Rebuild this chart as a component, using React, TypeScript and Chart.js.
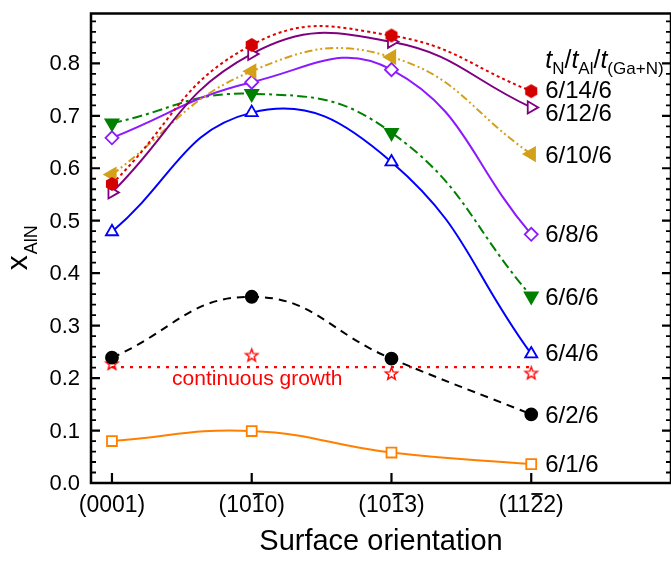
import React, { useEffect, useRef } from 'react';
import { Chart, registerables } from 'chart.js';

Chart.register(...registerables);

// ---------------- data ----------------
const categories = ['(0001)', '(1010)', '(1013)', '(1122)'];
const overbarIndex = [-1, 3, 3, 3];
const xPositions = [0, 1, 2, 3];

const s6_14_6 = [0.570, 0.835, 0.853, 0.747];
const s6_12_6 = [0.554, 0.818, 0.841, 0.716];
const s6_10_6 = [0.588, 0.785, 0.812, 0.627];
const s6_8_6 = [0.658, 0.764, 0.788, 0.474];
const s6_6_6 = [0.686, 0.742, 0.668, 0.356];
const s6_4_6 = [0.479, 0.706, 0.612, 0.246];
const s6_2_6 = [0.239, 0.355, 0.237, 0.131];
const s6_1_6 = [0.080, 0.099, 0.058, 0.036];
const continuousGrowth = [0.228, 0.244, 0.209, 0.210];
const continuousLevel = 0.221;

const seriesNames = ['6/14/6', '6/12/6', '6/10/6', '6/8/6', '6/6/6', '6/4/6', '6/2/6', '6/1/6'];
const seriesLabelY = [0.749, 0.705, 0.625, 0.474, 0.354, 0.248, 0.128, 0.036];

const yTickValues = [0, 0.1, 0.2, 0.3, 0.4, 0.5, 0.6, 0.7, 0.8];
const yTickLabels = ['0.0', '0.1', '0.2', '0.3', '0.4', '0.5', '0.6', '0.7', '0.8'];

const FONT = '"Liberation Sans", Arial, Helvetica, sans-serif';
const W = 671;
const H = 561;

function makeHex(r: number, color: string) {
  const c = document.createElement('canvas');
  const s = Math.ceil(r * 2 + 2);
  c.width = s; c.height = s;
  const ctx = c.getContext('2d')!;
  ctx.beginPath();
  for (let k = 0; k < 6; k++) {
    const a = -Math.PI / 2 + (k * Math.PI) / 3;
    const px = s / 2 + r * Math.cos(a);
    const py = s / 2 + r * Math.sin(a);
    if (k === 0) ctx.moveTo(px, py); else ctx.lineTo(px, py);
  }
  ctx.closePath();
  ctx.fillStyle = color;
  ctx.fill();
  return c;
}

function makeStar(r: number, color: string) {
  const c = document.createElement('canvas');
  const s = Math.ceil(r * 2 + 4);
  c.width = s; c.height = s;
  const ctx = c.getContext('2d')!;
  ctx.beginPath();
  for (let k = 0; k < 10; k++) {
    const a = -Math.PI / 2 + (k * Math.PI) / 5;
    const rr = k % 2 === 0 ? r : r * 0.42;
    const px = s / 2 + rr * Math.cos(a);
    const py = s / 2 + 0.6 + rr * Math.sin(a);
    if (k === 0) ctx.moveTo(px, py); else ctx.lineTo(px, py);
  }
  ctx.closePath();
  ctx.fillStyle = '#fff';
  ctx.fill();
  ctx.strokeStyle = color;
  ctx.lineWidth = 1.4;
  ctx.stroke();
  return c;
}

const toXY = (vals: number[]) => vals.map((v, i) => ({ x: xPositions[i], y: v }));

const decorPlugin = {
  id: 'decor',
  afterDraw(chart: any) {
    const ctx = chart.ctx;
    const { left, right, top, bottom } = chart.chartArea;
    const xs = chart.scales.x;
    const ys = chart.scales.y;
    ctx.save();
    ctx.strokeStyle = '#000';
    ctx.fillStyle = '#000';
    // frame
    ctx.lineWidth = 2.5;
    ctx.strokeRect(left, top, right - left, bottom - top);
    // y ticks (left and right, inward)
    for (let i = 0; i <= 44; i++) {
      const v = i * 0.02;
      const py = ys.getPixelForValue(v);
      if (py < top + 1) continue;
      const major = i % 5 === 0;
      const len = major ? 9 : 5;
      ctx.lineWidth = major ? 2.2 : 1.8;
      ctx.beginPath();
      ctx.moveTo(left, py); ctx.lineTo(left + len, py);
      ctx.moveTo(right, py); ctx.lineTo(right - len, py);
      ctx.stroke();
    }
    // y tick labels
    ctx.font = `22px ${FONT}`;
    ctx.textAlign = 'right';
    ctx.textBaseline = 'middle';
    yTickValues.forEach((v, i) => {
      ctx.fillText(yTickLabels[i], left - 11, ys.getPixelForValue(v) + 1);
    });
    // x ticks
    ctx.lineWidth = 2.2;
    xPositions.forEach((xv) => {
      const px = xs.getPixelForValue(xv);
      ctx.beginPath();
      ctx.moveTo(px, bottom); ctx.lineTo(px, bottom - 10);
      ctx.stroke();
    });
    // x tick labels with overbars
    ctx.font = `23px ${FONT}`;
    ctx.textBaseline = 'middle';
    ctx.textAlign = 'left';
    const labelY = 506;
    categories.forEach((lab, i) => {
      const px = xs.getPixelForValue(xPositions[i]);
      const w = ctx.measureText(lab).width;
      const x0 = px - w / 2;
      ctx.fillText(lab, x0, labelY);
      const bi = overbarIndex[i];
      if (bi >= 0) {
        const pre = ctx.measureText(lab.slice(0, bi)).width;
        const cw = ctx.measureText(lab[bi]).width;
        ctx.lineWidth = 1.8;
        ctx.beginPath();
        ctx.moveTo(x0 + pre + 1, labelY - 12);
        ctx.lineTo(x0 + pre + cw - 0.5, labelY - 12);
        ctx.stroke();
      }
    });
    // x axis title
    ctx.font = `29px ${FONT}`;
    ctx.textAlign = 'center';
    ctx.fillText('Surface orientation', (left + right) / 2, 542);
    // y axis title: x_AlN rotated
    ctx.save();
    ctx.translate(27, (top + bottom) / 2);
    ctx.rotate(-Math.PI / 2);
    ctx.textAlign = 'left';
    ctx.textBaseline = 'alphabetic';
    ctx.font = `30px ${FONT}`;
    const wx = ctx.measureText('x').width;
    ctx.font = `18px ${FONT}`;
    const ws = ctx.measureText('AlN').width;
    const sx = -(wx + ws) / 2;
    ctx.font = `30px ${FONT}`;
    ctx.fillText('x', sx, 0);
    ctx.font = `18px ${FONT}`;
    ctx.fillText('AlN', sx + wx + 1, 10);
    ctx.restore();
    // series labels
    const lx = xs.getPixelForValue(3) + 14;
    ctx.font = `24px ${FONT}`;
    ctx.textAlign = 'left';
    ctx.textBaseline = 'middle';
    seriesNames.forEach((n, i) => {
      ctx.fillText(n, lx, ys.getPixelForValue(seriesLabelY[i]) + 1);
    });
    // legend title t_N/t_Al/t_(Ga+N)
    ctx.textBaseline = 'alphabetic';
    let cx = lx;
    const by = 68;
    const parts: [string, string][] = [['t', 'N'], ['/', ''], ['t', 'Al'], ['/', ''], ['t', '(Ga+N)']];
    parts.forEach(([main, sub]) => {
      ctx.font = main === 't' ? `italic 25px ${FONT}` : `25px ${FONT}`;
      ctx.fillText(main, cx, by);
      cx += ctx.measureText(main).width;
      if (sub) {
        ctx.font = `17px ${FONT}`;
        ctx.fillText(sub, cx, by + 6);
        cx += ctx.measureText(sub).width;
      }
    });
    // continuous growth annotation
    ctx.fillStyle = '#ff0000';
    ctx.font = `21px ${FONT}`;
    ctx.textAlign = 'center';
    ctx.textBaseline = 'middle';
    ctx.fillText('continuous growth', xs.getPixelForValue(1.04), ys.getPixelForValue(0.197));
    ctx.restore();
  },
};

export default function App() {
  const ref = useRef<HTMLCanvasElement | null>(null);
  useEffect(() => {
    if (!ref.current) return;
    const hex = makeHex(7, '#d40000');
    const star = makeStar(6.5, '#ff0000');
    const common = { borderWidth: 2, tension: 0.45, pointBorderWidth: 1.8, pointRadius: 6.5, pointHoverRadius: 6.5 };
    const chart = new Chart(ref.current, {
      type: 'line',
      data: {
        datasets: [
          { ...common, label: seriesNames[0], data: toXY(s6_14_6), borderColor: '#e00000', borderDash: [3, 3], pointStyle: hex as any, pointBackgroundColor: '#d40000', pointBorderColor: '#d40000' },
          { ...common, label: seriesNames[1], data: toXY(s6_12_6), borderColor: '#800080', pointStyle: 'triangle', pointRotation: 90, pointRadius: 7, pointBackgroundColor: '#fff', pointBorderColor: '#800080' },
          { ...common, label: seriesNames[2], data: toXY(s6_10_6), borderColor: '#d4a017', borderDash: [8, 3, 2, 3, 2, 3], pointStyle: 'triangle', pointRotation: -90, pointRadius: 7.5, pointBackgroundColor: '#d4a017', pointBorderColor: '#d4a017' },
          { ...common, label: seriesNames[3], data: toXY(s6_8_6), borderColor: '#8c1aff', pointStyle: 'rectRot', pointRadius: 6.5, pointBackgroundColor: '#fff', pointBorderColor: '#8c1aff' },
          { ...common, label: seriesNames[4], data: toXY(s6_6_6), borderColor: '#008000', borderDash: [10, 4, 3, 4], pointStyle: 'triangle', pointRotation: 180, pointRadius: 7.5, pointBackgroundColor: '#008000', pointBorderColor: '#008000' },
          { ...common, label: seriesNames[5], data: toXY(s6_4_6), borderColor: '#0000ff', pointStyle: 'triangle', pointRadius: 7, pointBackgroundColor: '#fff', pointBorderColor: '#0000ff' },
          { ...common, label: seriesNames[6], data: toXY(s6_2_6), borderColor: '#000', borderDash: [8, 6], pointStyle: 'circle', pointRadius: 6, pointBackgroundColor: '#000', pointBorderColor: '#000' },
          { ...common, label: seriesNames[7], data: toXY(s6_1_6), borderColor: '#ff8000', pointStyle: 'rect', pointRadius: 7, pointBackgroundColor: '#fff', pointBorderColor: '#ff8000' },
          { label: 'continuous growth level', data: [{ x: xPositions[0], y: continuousLevel }, { x: xPositions[3], y: continuousLevel }], borderColor: '#ff0000', borderWidth: 2.2, borderDash: [3, 6], pointRadius: 0, tension: 0 },
          { label: 'continuous growth', data: toXY(continuousGrowth), showLine: false, pointStyle: star as any, pointRadius: 6.5, borderColor: '#ff0000', backgroundColor: '#fff' },
        ],
      },
      options: {
        animation: false,
        responsive: false,
        devicePixelRatio: 1,
        layout: { autoPadding: false, padding: { left: 91, top: 13.5, right: W - 673, bottom: H - 483 } },
        plugins: { legend: { display: false }, tooltip: { enabled: false } },
        scales: {
          x: {
            type: 'linear',
            display: false,
            min: -0.15,
            max: 4.0,
          },
          y: {
            type: 'linear',
            display: false,
            min: 0,
            max: 0.895,
          },
        },
      },
      plugins: [decorPlugin],
    });
    return () => chart.destroy();
  }, []);
  return (
    <div style={{ position: 'fixed', left: 0, top: 0, width: W, height: H, overflow: 'hidden', background: '#fff' }}>
      <canvas ref={ref} width={W} height={H} style={{ width: W, height: H, display: 'block' }} />
    </div>
  );
}
